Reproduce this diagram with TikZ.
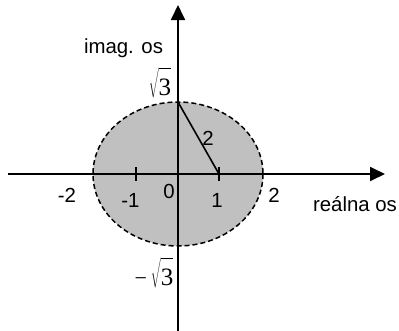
\documentclass[tikz,border=0pt]{standalone}
\usepackage{fontspec}
\setmainfont{Liberation Sans}
\newfontfamily\serifd{Liberation Serif}
\usetikzlibrary{arrows.meta}
\definecolor{shade}{HTML}{C0C0C0}
\newcommand{\rootthree}{{\fontsize{22bp}{24bp}\selectfont$\sqrt{\rule{0pt}{24bp}\hbox{\fontsize{25bp}{28bp}\serifd 3}}$}}
\begin{document}
\begin{tikzpicture}[x=1bp,y=-1bp,
  font=\fontsize{20.4bp}{24bp}\selectfont,
  axis/.style={line width=1.8bp,-{Triangle[length=15bp,width=14bp]}},
  tick/.style={line width=1.8bp},
  region/.style={fill=shade,draw=black,line width=1.5bp,dash pattern=on 5bp off 3bp},
  radius/.style={line width=1.6bp},
  lbl/.style={inner sep=0pt,anchor=base}]
\useasboundingbox (0,0) rectangle (399,331);
% region
\coordinate (c) at (178,174);
\draw[region] (c) ellipse [x radius=85,y radius=72];
% axes
\coordinate (xs) at (8,174);
\coordinate (xe) at (385,174);
\coordinate (ys) at (178,331);
\coordinate (ye) at (178,5);
\draw[axis] (xs) -- (xe);
\draw[axis] (ys) -- (ye);
% ticks
\coordinate (t1a) at (136,167); \coordinate (t1b) at (136,181);
\coordinate (t2a) at (219,167); \coordinate (t2b) at (219,181);
\draw[tick] (t1a) -- (t1b);
\draw[tick] (t2a) -- (t2b);
% radius line
\coordinate (top) at (178,102);
\coordinate (one) at (219,174);
\draw[radius] (top) -- (one);
% labels
\node[lbl] (lm2) at (67,202) {-2};
\node[lbl] (lm1) at (130.5,207) {-1};
\node[lbl] (l0) at (169,198) {0};
\node[lbl] (l1) at (217,207) {1};
\node[lbl] (l2) at (274,202) {2};
\node[lbl] (re) at (355,211) {reálna os};
\node[lbl] (im) at (123.5,53) {imag. os};
\node[lbl] (r2) at (208,145) {2};
\node[lbl] (s3) at (160,95) {\rootthree};
\node[lbl] (ms3) at (154,285) {{\fontsize{22bp}{24bp}\serifd −}\hspace{4bp}\rootthree};
\end{tikzpicture}
\end{document}
